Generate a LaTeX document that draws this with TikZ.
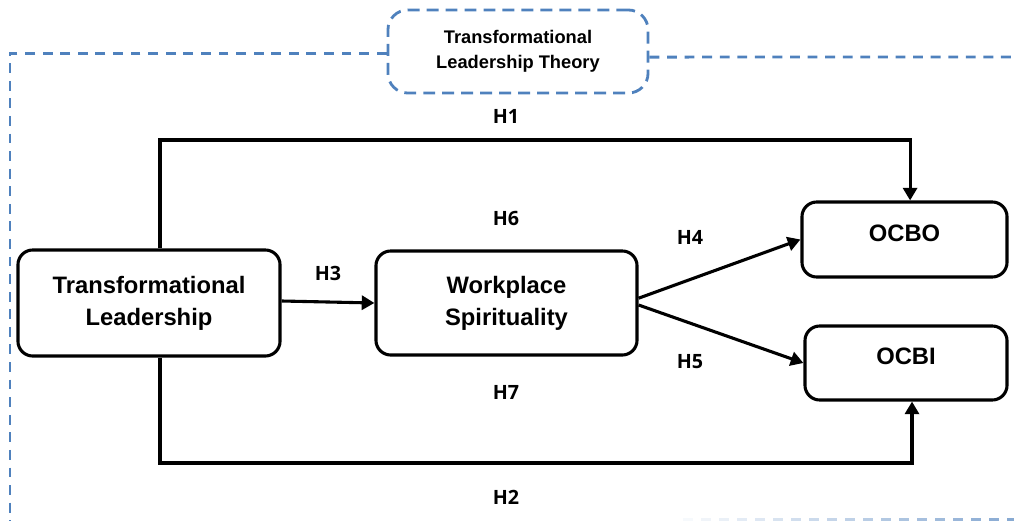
\documentclass[tikz,border=0pt]{standalone}
\usepackage{fontspec}
\setmainfont{Liberation Sans}
\newfontfamily\hypfont{Open Sans}
\usetikzlibrary{arrows.meta}
\definecolor{theoryblue}{RGB}{79,129,189}

\begin{document}
\begin{tikzpicture}
  [x=0.025cm, y=-0.025cm, line width=2.2pt,
   construct/.style={draw, rounded corners=10.5pt, align=center, inner sep=0pt,
     font=\bfseries\fontsize{16.9}{22.8}\selectfont},
   hyp/.style={font=\hypfont\bfseries\fontsize{14}{16}\selectfont},
   link/.style={-{Triangle[length=9pt,width=10pt]}},
   theoryline/.style={draw=theoryblue, line width=2pt, dash pattern=on 7pt off 5.5pt}]
  \useasboundingbox (0,0) rectangle (1014,521);

  \node [name=tl, construct, minimum width=6.55cm, minimum height=2.65cm] at (149,303) {Transformational\\Leadership};
  \node [name=ws, construct, minimum width=6.525cm, minimum height=2.6cm] at (506.5,303) {Workplace\\Spirituality};
  \node [name=ocbo, construct, text depth=9pt, minimum width=5.125cm, minimum height=1.875cm] at (904.5,239.5) {OCBO};
  \node [name=ocbi, construct, text depth=9pt, minimum width=5.05cm, minimum height=1.85cm] at (906,363) {OCBI};
  \node [name=theory, draw=theoryblue, line width=2pt, dash pattern=on 8.5pt off 5pt,
         rounded corners=14pt, minimum width=6.5cm, minimum height=2.075cm, align=center,
         font=\bfseries\fontsize{13}{17.8}\selectfont] at (518,51.5) {Transformational\\Leadership Theory};

  % theory frame
  \coordinate (leftend) at (10,521);
  \coordinate (rightend) at (1014,57);
  \draw [theoryline] ([yshift=-0.04cm]theory.west) -| (leftend);
  \draw [theoryline] ([yshift=-0.14cm]theory.east) -- (rightend);
  \foreach \i [evaluate=\i as \op using 0.05+\i*0.035] in {0,...,18}
    \draw [draw=theoryblue, line width=2pt, draw opacity=\op] (683+18*\i,519.5) -- ++(10,0);

  % hypotheses
  \coordinate (topbend) at (160,140);
  \coordinate (botbend) at (160,463);
  \draw [link] (topbend |- tl.north) -- (topbend) -| ([xshift=0.14cm]ocbo.north);
  \draw [link] (botbend |- tl.south) -- (botbend) -| ([xshift=0.15cm]ocbi.south);
  \draw [link] ([yshift=0.05cm]tl.east) -- (ws.west);
  \draw [link] ([yshift=0.12cm]ws.east) -- (ocbo.west);
  \draw [link] ([yshift=-0.05cm]ws.east) -- (ocbi.west);

  \node [name=h1, hyp] at (506,116) {H1};
  \node [name=h6, hyp] at (506,218) {H6};
  \node [name=h3, hyp] at (328,273) {H3};
  \node [name=h4, hyp] at (690,237) {H4};
  \node [name=h5, hyp] at (690,362) {H5};
  \node [name=h7, hyp] at (506,392) {H7};
  \node [name=h2, hyp] at (506,497) {H2};
\end{tikzpicture}
\end{document}
